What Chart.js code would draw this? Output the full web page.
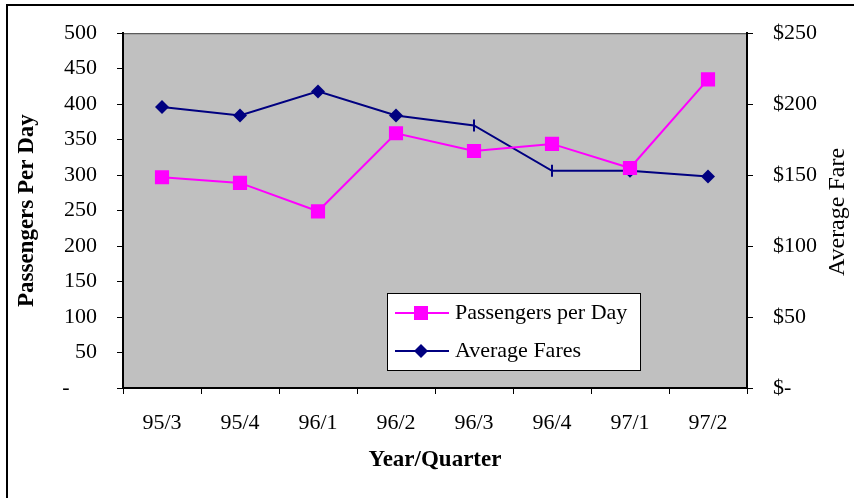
<!DOCTYPE html>
<html>
<head>
<meta charset="utf-8">
<script src="https://cdn.jsdelivr.net/npm/chart.js@4"></script>
<style>
body{margin:0;background:#fff;}
</style>
</head>
<body>
<canvas id="fareChart" width="854" height="498"></canvas>
<script>

const quarters = ["95/3","95/4","96/1","96/2","96/3","96/4","97/1","97/2"];

const passengers = [297, 289, 249, 359, 334, 344, 310, 435];

const averageFares = [198, 192, 209, 192, 185, 153, 153, 149];

const serif = "'Liberation Serif', 'Times New Roman', serif";


// grey plot area, outer frame, right title and the boxed legend
const excelLook = {

id:"excelLook",

beforeDraw(chart){

const ctx = chart.ctx;
const a = chart.chartArea;

ctx.save();

ctx.fillStyle = "#c0c0c0";
ctx.fillRect(a.left, a.top, a.right-a.left, a.bottom-a.top);

ctx.strokeStyle = "#404040";
ctx.lineWidth = 1;
ctx.strokeRect(a.left+0.5, a.top+0.5, a.right-a.left-1, a.bottom-a.top-1);

ctx.strokeStyle = "#000";
ctx.lineWidth = 2;
ctx.beginPath();
ctx.moveTo(7, 498);
ctx.lineTo(7, 5);
ctx.lineTo(854, 5);
ctx.stroke();

ctx.restore();

},

afterDraw(chart){

const ctx = chart.ctx;

ctx.save();

// right axis title, reading bottom to top
ctx.translate(838, 212);
ctx.rotate(-Math.PI/2);
ctx.fillStyle = "#000";
ctx.font = "24px " + serif;
ctx.textAlign = "center";
ctx.textBaseline = "middle";
ctx.fillText("Average Fare", 0, 0);

ctx.restore();


// legend
ctx.save();

ctx.fillStyle = "#fff";
ctx.fillRect(387, 293, 253, 77);
ctx.strokeStyle = "#000";
ctx.lineWidth = 1;
ctx.strokeRect(387.5, 293.5, 253, 77);

const rows = [
{ y:313, color:"#ff00ff", shape:"square", text:chart.data.datasets[0].label },
{ y:351, color:"#000080", shape:"diamond", text:chart.data.datasets[1].label }
];

rows.forEach(r => {

ctx.strokeStyle = r.color;
ctx.lineWidth = 2;
ctx.beginPath();
ctx.moveTo(395, r.y);
ctx.lineTo(449, r.y);
ctx.stroke();

ctx.fillStyle = r.color;
ctx.beginPath();
if(r.shape === "square"){
ctx.rect(414, r.y-7, 14, 14);
}else{
ctx.moveTo(421, r.y-7);
ctx.lineTo(428, r.y);
ctx.lineTo(421, r.y+7);
ctx.lineTo(414, r.y);
ctx.closePath();
}
ctx.fill();

ctx.fillStyle = "#000";
ctx.font = "22px " + serif;
ctx.textAlign = "left";
ctx.textBaseline = "middle";
ctx.fillText(r.text, 455, r.y);

});

ctx.restore();

}

};


const fareChart =
new Chart(
document.getElementById("fareChart"),
{

type:"line",

data:{

labels:quarters,

datasets:[{

label:"Passengers per Day",

data:passengers,

yAxisID:"y",

borderColor:"#ff00ff",
backgroundColor:"#ff00ff",
borderWidth:2,
pointStyle:"rect",
pointRadius:10,
pointHoverRadius:10,
pointBorderWidth:0

},{

label:"Average Fares",

data:averageFares,

yAxisID:"y1",

borderColor:"#000080",
backgroundColor:"#000080",
borderWidth:2,
pointStyle:["rectRot","rectRot","rectRot","rectRot","line","line","rectRot","rectRot"],
pointRotation:[0,0,0,0,90,90,0,0],
pointRadius:[7,7,7,7,6,6,7,7],
pointBorderWidth:[0,0,0,0,2,2,0,0]

}]

},

options:{

responsive:false,
animation:false,
tension:0,

layout:{ padding:{ top:33, left:0, right:0, bottom:0 } },

plugins:{
legend:{ display:false },
tooltip:{ enabled:false }
},

scales:{

x:{
offset:true,
grid:{ offset:true, drawOnChartArea:false, tickLength:6, color:"#000", tickWidth:1 },
border:{ color:"#000", width:2 },
ticks:{ color:"#000", padding:16, maxRotation:0, font:{ family:serif, size:22 } },
title:{ display:true, text:"Year/Quarter", color:"#000", padding:{ top:0, bottom:24 }, font:{ family:serif, size:23, weight:"bold" } },
afterFit(scale){ scale.height = 110; }
},

y:{
position:"left",
min:0,
max:500,
grid:{ drawOnChartArea:false, tickLength:6, color:"#000" },
border:{ color:"#000", width:2 },
ticks:{
stepSize:50,
color:"#000",
padding:20,
font:{ family:serif, size:22 },
callback:v => v === 0 ? "-\u00a0\u00a0\u00a0\u00a0\u00a0" : v
},
title:{ display:true, text:"Passengers Per Day", color:"#000", padding:{ top:13, bottom:0 }, font:{ family:serif, size:23, weight:"bold" } },
afterFit(scale){ scale.width = 123; }
},

y1:{
position:"right",
min:0,
max:250,
grid:{ drawOnChartArea:false, tickLength:6, color:"#000" },
border:{ color:"#000", width:2 },
ticks:{
stepSize:50,
color:"#000",
padding:20,
font:{ family:serif, size:22 },
callback:v => v === 0 ? "$-" : "$" + v
},
afterFit(scale){ scale.width = 107; }
}

}

},

plugins:[excelLook]

});

</script>
</body>
</html>
